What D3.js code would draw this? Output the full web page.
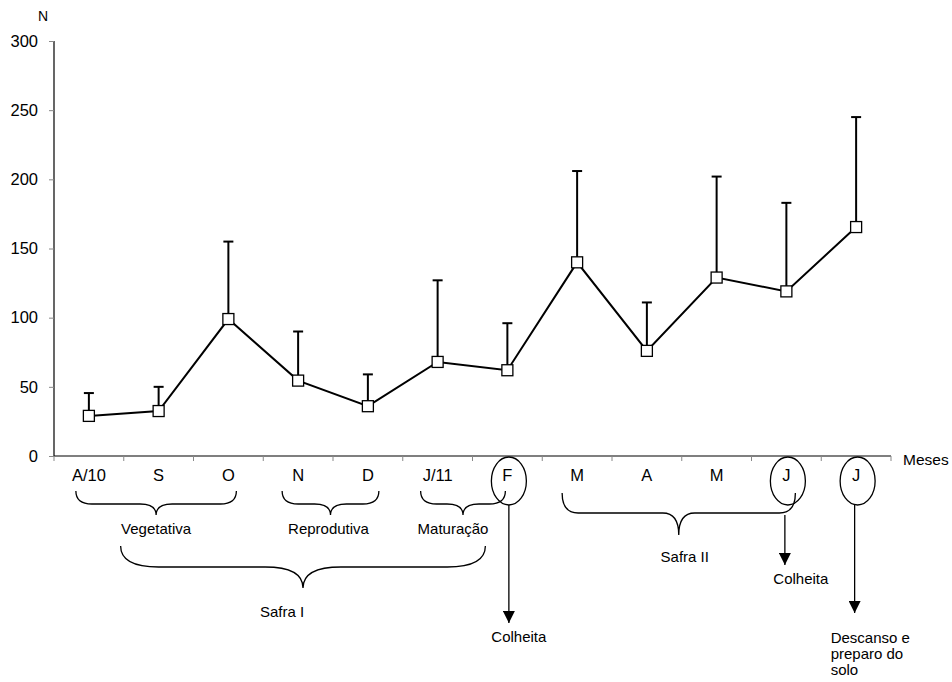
<!DOCTYPE html>
<html><head><meta charset="utf-8">
<script src="https://cdn.jsdelivr.net/npm/d3@7"></script>
<style>body{margin:0;background:#fff}svg{display:block}text{font-family:"Liberation Sans",Arial,Helvetica,sans-serif;fill:#000}</style>
</head><body><svg id="c" width="952" height="682"></svg>
<script>
const months = ["A/10","S","O","N","D","J/11","F","M","A","M","J","J"];
const means = [29, 32.5, 99, 54.5, 36, 68, 62, 140, 76, 129, 119, 165.5];
const upper = [45.5, 50, 155, 90, 59, 127, 96, 206, 111, 202, 183, 245];
const yTicks = [0, 50, 100, 150, 200, 250, 300];
const phases = [
  {label:"Vegetativa", from:0, to:2, o1:-13, o2:8, level:0, lo:0},
  {label:"Reprodutiva", from:3, to:4, o1:-16, o2:11, level:0, lo:-2},
  {label:"Maturação", from:5, to:6, o1:-17, o2:-2, level:0, lo:-10},
  {label:"Safra I", from:1, to:6, o1:-38, o2:-22, level:1, lo:-21},
  {label:"Safra II", from:7, to:10, o1:-15, o2:9, level:2, lo:6}
];
const harvests = [
  {idx:6, tip:623, label:["Colheita"], lx:10, ly:642, anchor:"middle", start:505},
  {idx:10, tip:565, label:["Colheita"], lx:16, ly:584, anchor:"middle", start:515},
  {idx:11, tip:613, label:["Descanso e","preparo do","solo"], lx:-24, ly:643, anchor:"start", start:505}
];
const circled = [6, 10, 11];

const svg = d3.select("#c");
const L = 54, R = 891, T = 41, B = 456;
const x = d3.scaleBand().domain(d3.range(months.length)).range([L, R]);
const y = d3.scaleLinear().domain([0, 300]).range([B, T]);
const cx = i => x(i) + x.bandwidth()/2;

// y axis
const ya = svg.append("g").attr("transform", `translate(${L},0)`)
  .call(d3.axisLeft(y).tickValues(yTicks).tickSize(5).tickPadding(11));
ya.select(".domain").attr("stroke","#000").attr("stroke-width",1.2).attr("d",`M0,${B}V${T}`);
ya.selectAll(".tick line").attr("stroke","#888");
ya.selectAll("text").attr("font-size",16.5).attr("font-family","Liberation Sans, Arial");
svg.append("text").attr("x",43).attr("y",21).attr("text-anchor","middle").attr("font-size",14).text("N");

// x axis
const xa = svg.append("g").attr("transform", `translate(0,${B})`);
xa.append("line").attr("x1",L).attr("x2",R).attr("stroke","#000").attr("stroke-width",1.2);
xa.selectAll("line.t").data(d3.range(months.length+1)).join("line").attr("class","t")
  .attr("x1",i=>L+i*x.bandwidth()).attr("x2",i=>L+i*x.bandwidth()).attr("y1",0).attr("y2",5).attr("stroke","#888");
xa.selectAll("text").data(months).join("text")
  .attr("x",(d,i)=>cx(i)).attr("y",25).attr("text-anchor","middle").attr("font-size",16.5).text(d=>d);
svg.append("text").attr("x",903).attr("y",465).attr("font-size",15.5).text("Meses");

// error bars
const g = svg.append("g");
g.selectAll("line.e").data(means).join("line").attr("class","e")
  .attr("x1",(d,i)=>cx(i)).attr("x2",(d,i)=>cx(i)).attr("y1",d=>y(d)).attr("y2",(d,i)=>y(upper[i]))
  .attr("stroke","#000").attr("stroke-width",2);
g.selectAll("line.c").data(upper).join("line").attr("class","c")
  .attr("x1",(d,i)=>cx(i)-5).attr("x2",(d,i)=>cx(i)+5).attr("y1",d=>y(d)).attr("y2",d=>y(d))
  .attr("stroke","#000").attr("stroke-width",2);
g.append("path").datum(means).attr("fill","none").attr("stroke","#000").attr("stroke-width",2)
  .attr("d", d3.line().x((d,i)=>cx(i)).y(d=>y(d)));
g.selectAll("rect").data(means).join("rect")
  .attr("x",(d,i)=>cx(i)-5.5).attr("y",d=>y(d)-5.5).attr("width",11).attr("height",11)
  .attr("fill","#fff").attr("stroke","#000").attr("stroke-width",1.3);

// ellipses
svg.selectAll("ellipse").data(circled).join("ellipse")
  .attr("cx",i=>cx(i)+1.5).attr("cy",481).attr("rx",17.5).attr("ry",24)
  .attr("fill","none").attr("stroke","#000").attr("stroke-width",1.3);

// braces
function brace(x1,x2,yT,yM,yB,r){
  const m=(x1+x2)/2;
  return `M${x1},${yT}Q${x1},${yM} ${x1+r},${yM}L${m-r},${yM}Q${m},${yM} ${m},${yB}Q${m},${yM} ${m+r},${yM}L${x2-r},${yM}Q${x2},${yM} ${x2},${yT}`;
}
const lv = [{yT:491,yM:504,yB:515,ly:534},{yT:546,yM:567,yB:588,ly:617},{yT:493,yM:513,yB:535,ly:562}];
phases.forEach(p=>{
  const x1=cx(p.from)+p.o1, x2=cx(p.to)+p.o2, l=lv[p.level];
  svg.append("path").attr("d",brace(x1,x2,l.yT,l.yM,l.yB,p.level===1?38:16))
    .attr("fill","none").attr("stroke","#000").attr("stroke-width",1.3);
  svg.append("text").attr("x",(x1+x2)/2 + p.lo).attr("y",l.ly)
    .attr("text-anchor","middle").attr("font-size",15).text(p.label);
});

// arrows
svg.append("defs").append("marker").attr("id","ah").attr("viewBox","0 0 10 10").attr("refX",10).attr("refY",5)
  .attr("markerWidth",12).attr("markerHeight",12).attr("markerUnits","userSpaceOnUse").attr("orient","auto")
  .append("path").attr("d","M0,0L10,5L0,10Z").attr("fill","#000");
harvests.forEach(h=>{
  const ax = cx(h.idx)+(h.idx===6?1.5:-1.5);
  svg.append("line").attr("x1",ax).attr("x2",ax).attr("y1",h.start).attr("y2",h.tip)
    .attr("stroke","#000").attr("stroke-width",1.3).attr("marker-end","url(#ah)");
  h.label.forEach((t,k)=>svg.append("text").attr("x",ax+h.lx).attr("y",h.ly+k*16)
    .attr("text-anchor",h.anchor).attr("font-size",15).text(t));
});
</script></body></html>
